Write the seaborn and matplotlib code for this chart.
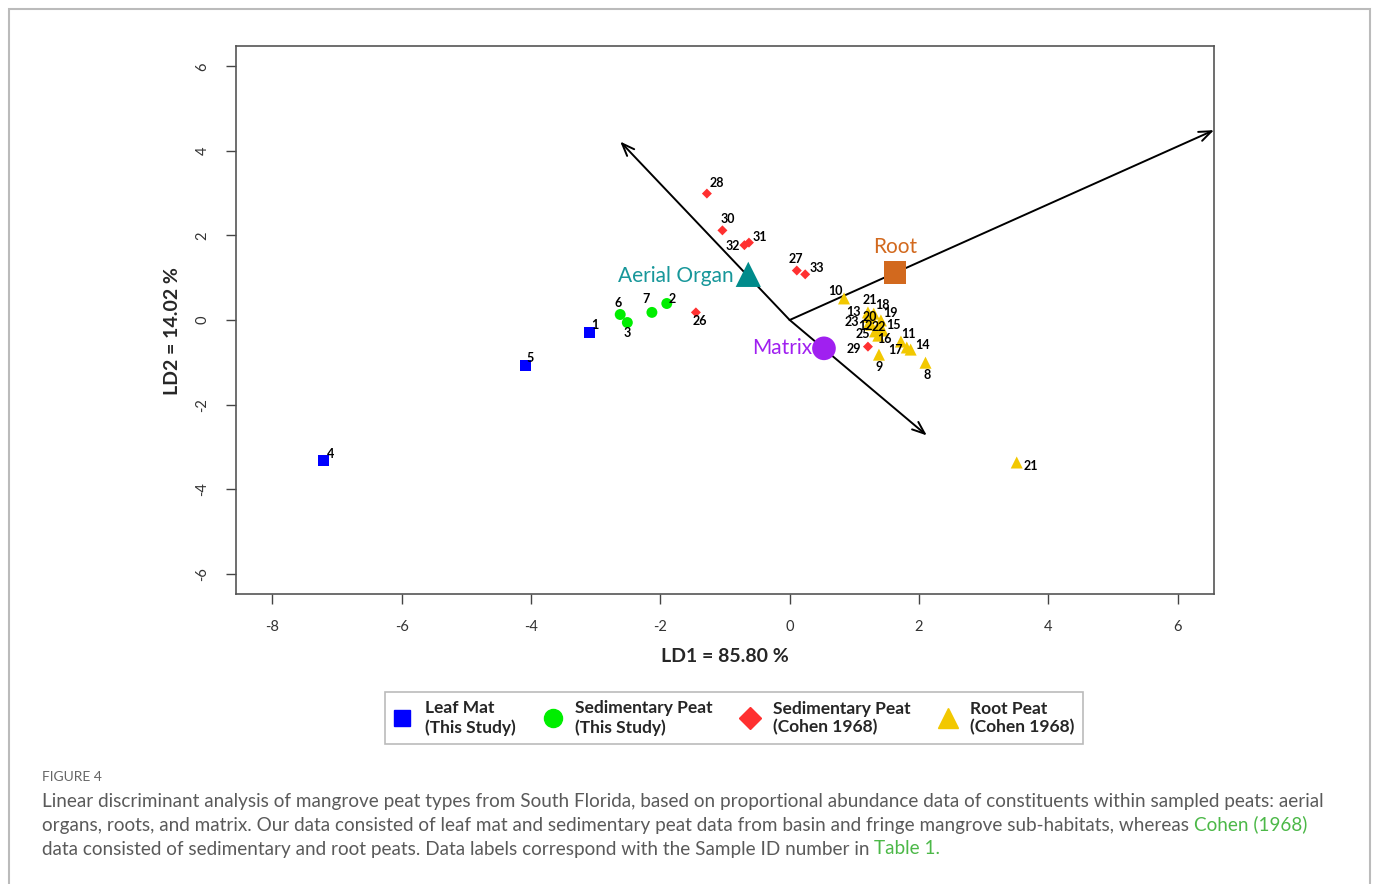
import numpy as np
import pandas as pd
import matplotlib
matplotlib.use("Agg")
import matplotlib.pyplot as plt
from matplotlib.lines import Line2D
from matplotlib.patches import Rectangle
import seaborn as sns

# ---- LDA scores by peat type ----
leaf_ids = ["1", "5", "4"]
leaf_ld1 = [-3.10, -4.09, -7.21]
leaf_ld2 = [-0.30, -1.08, -3.33]

sed_ids = ["6", "3", "7", "2"]
sed_ld1 = [-2.62, -2.51, -2.13, -1.90]
sed_ld2 = [0.13, -0.06, 0.18, 0.39]

cohen_sed_ids = ["26", "28", "30", "32", "31", "27", "33", "29"]
cohen_sed_ld1 = [-1.45, -1.28, -1.04, -0.70, -0.63, 0.11, 0.24, 1.21]
cohen_sed_ld2 = [0.18, 2.99, 2.12, 1.77, 1.83, 1.17, 1.08, -0.63]

root_ids = ["10", "21", "18", "13", "20", "19", "23", "12", "22", "15",
            "25", "16", "11", "17", "14", "9", "8", "21"]
root_ld1 = [0.84, 1.21, 1.30, 1.21, 1.26, 1.41, 1.23, 1.26, 1.38, 1.44,
            1.32, 1.37, 1.72, 1.81, 1.87, 1.38, 2.10, 3.51]
root_ld2 = [0.51, 0.18, 0.15, 0.08, 0.08, -0.01, -0.06, -0.11, -0.18, -0.25,
            -0.27, -0.37, -0.51, -0.65, -0.70, -0.82, -1.01, -3.37]

# label offsets (pixels) for each sample id, keyed by group order above
leaf_off = [(6, 8), (5, 8), (7, 7)]
sed_off = [(-2, 12), (0, -10), (-6, 13), (5, 5)]
cohen_sed_off = [(4, -9), (10, 11), (5, 11), (-12, -1), (11, 6), (-1, 12), (12, 6), (-14, -2)]
root_off = [(-9, 7), (2, 12), (9, 9), (-15, 5), (-1, 0), (10, 7), (-17, 1), (-6, -1),
            (0, 1), (11, 6), (-12, -3), (6, -3), (7, 8), (-11, -3), (12, 5), (0, -12),
            (2, -12), (14, -4)]

# group centroids of constituents
centroid_names = ["Aerial Organ", "Root", "Matrix"]
centroid_ld1 = [-0.64, 1.63, 0.53]
centroid_ld2 = [1.08, 1.12, -0.67]

# biplot vectors (aerial organs, matrix, roots)
vector_ld1 = [-2.62, 2.12, 6.56]
vector_ld2 = [4.22, -2.73, 4.49]

legend_labels = ["Leaf Mat\n(This Study)", "Sedimentary Peat\n(This Study)",
                 "Sedimentary Peat\n(Cohen 1968)", "Root Peat\n(Cohen 1968)"]

sns.set_style("white")
plt.rcParams["font.family"] = ["Lato", "DejaVu Sans"]
plt.rcParams["axes.unicode_minus"] = False

fig = plt.figure(figsize=(13.75, 8.84), dpi=100)
ax = fig.add_axes([236 / 1375, 1 - 594 / 884, 978 / 1375, 548 / 884])

groups = [
    (leaf_ids, leaf_ld1, leaf_ld2, leaf_off, "#0000FF", "s", 60),
    (sed_ids, sed_ld1, sed_ld2, sed_off, "#00EE00", "o", 62),
    (cohen_sed_ids, cohen_sed_ld1, cohen_sed_ld2, cohen_sed_off, "#FF3030", "D", 26),
    (root_ids, root_ld1, root_ld2, root_off, "#F2C800", "^", 75),
]

# vectors from origin
for vx, vy in zip(vector_ld1, vector_ld2):
    ax.annotate("", xy=(vx, vy), xytext=(0, 0),
                arrowprops=dict(arrowstyle="->,head_length=0.9,head_width=0.35",
                                lw=1.4, color="black", shrinkA=0, shrinkB=0),
                zorder=2)

for ids, xs, ys, offs, col, mk, sz in groups:
    df = pd.DataFrame({"LD1": xs, "LD2": ys})
    sns.scatterplot(data=df, x="LD1", y="LD2", ax=ax, color=col, marker=mk,
                    s=sz, edgecolor="none", linewidth=0, legend=False, zorder=3)
    for sid, x, y, (dx, dy) in zip(ids, xs, ys, offs):
        ax.annotate(sid, (x, y), xytext=(dx, dy), textcoords="offset pixels",
                    ha="center", va="center", fontsize=9, fontweight="bold",
                    color="black", zorder=5)

# constituent centroids
cent_df = pd.DataFrame({"LD1": centroid_ld1, "LD2": centroid_ld2, "name": centroid_names})
cent_colors = {"Aerial Organ": "#008B8B", "Root": "#D2691E", "Matrix": "#A020F0"}
cent_markers = {"Aerial Organ": "^", "Root": "s", "Matrix": "o"}
cent_sizes = {"Aerial Organ": 330, "Root": 260, "Matrix": 290}
for _, r in cent_df.iterrows():
    sns.scatterplot(x=[r.LD1], y=[r.LD2], ax=ax, color=cent_colors[r["name"]],
                    marker=cent_markers[r["name"]], s=cent_sizes[r["name"]],
                    edgecolor="none", linewidth=0, legend=False, zorder=4)
ax.annotate("Aerial Organ", (centroid_ld1[0], centroid_ld2[0]), xytext=(-15, -2),
            textcoords="offset pixels", ha="right", va="center", fontsize=15,
            color="#17979A", zorder=5)
ax.annotate("Root", (centroid_ld1[1], centroid_ld2[1]), xytext=(0, 26),
            textcoords="offset pixels", ha="center", va="center", fontsize=15,
            color="#D2691E", zorder=5)
ax.annotate("Matrix", (centroid_ld1[2], centroid_ld2[2]), xytext=(-12, 0),
            textcoords="offset pixels", ha="right", va="center", fontsize=15,
            color="#A020F0", zorder=5)

ax.set_xlim(-8.56, 6.56)
ax.set_ylim(-6.48, 6.48)
ax.set_xticks(np.arange(-8, 7, 2))
ax.set_yticks(np.arange(-6, 7, 2))
ax.tick_params(axis="both", direction="out", length=7, width=1, color="#444444",
               labelsize=10.5, labelcolor="#333333", bottom=True, left=True)
ax.tick_params(axis="x", pad=12)
ax.tick_params(axis="y", pad=12)
for lab in ax.get_yticklabels():
    lab.set_rotation(90)
    lab.set_va("center")
for sp in ax.spines.values():
    sp.set_color("#555555")
    sp.set_linewidth(1.2)

ax.set_xlabel("LD1 = 85.80 %", fontsize=14, fontweight="bold", va="center")
ax.xaxis.set_label_coords(0.5, (594 - 657) / 548)
ax.set_ylabel("LD2 = 14.02 %", fontsize=14, fontweight="bold", va="center")
ax.yaxis.set_label_coords((172 - 236) / 978, (594 - 331) / 548)

handles = [
    Line2D([], [], marker="s", color="#0000FF", ls="none", markersize=12),
    Line2D([], [], marker="o", color="#00EE00", ls="none", markersize=13),
    Line2D([], [], marker="D", color="#FF3030", ls="none", markersize=11),
    Line2D([], [], marker="^", color="#F2C800", ls="none", markersize=14),
]
leg = fig.legend(handles, legend_labels, loc="center", bbox_to_anchor=(734 / 1375, 1 - 718 / 884),
                 ncol=4, frameon=True, fancybox=False, edgecolor="#aaaaaa",
                 handlelength=1.0, handletextpad=0.8, columnspacing=1.65,
                 borderpad=0.5, prop={"size": 12.5, "weight": "bold"})
leg.get_frame().set_linewidth(1.2)

# caption
fig.text(42 / 1375, 1 - 777 / 884, "FIGURE 4", fontsize=10, color="#666666",
         ha="left", va="center")
cap_size = 13.6
cap_kw = dict(fontsize=cap_size, color="#5a5a5a", ha="left", va="center")
link_col = "#4CB848"
fig.text(42 / 1375, 1 - 801 / 884,
         "Linear discriminant analysis of mangrove peat types from South Florida, based on "
         "proportional abundance data of constituents within sampled peats: aerial", **cap_kw)
t2 = fig.text(42 / 1375, 1 - 825 / 884,
              "organs, roots, and matrix. Our data consisted of leaf mat and sedimentary peat data "
              "from basin and fringe mangrove sub-habitats, whereas ", **cap_kw)
ax.annotate("Cohen (1968)", xy=(1, 0), xycoords=t2, ha="left", va="bottom",
            fontsize=cap_size, color=link_col, annotation_clip=False)
t3 = fig.text(42 / 1375, 1 - 849 / 884,
              "data consisted of sedimentary and root peats. Data labels correspond with the "
              "Sample ID number in ", **cap_kw)
ax.annotate("Table 1.", xy=(1, 0), xycoords=t3, ha="left", va="bottom",
            fontsize=cap_size, color=link_col, annotation_clip=False)

# page frame
fig.patches.append(Rectangle((9 / 1375, -0.05), 1361 / 1375, 1 - 9 / 884 + 0.05,
                             transform=fig.transFigure, fill=False,
                             edgecolor="#bbbbbb", lw=1.5))

fig.savefig("out.png", dpi=100)
